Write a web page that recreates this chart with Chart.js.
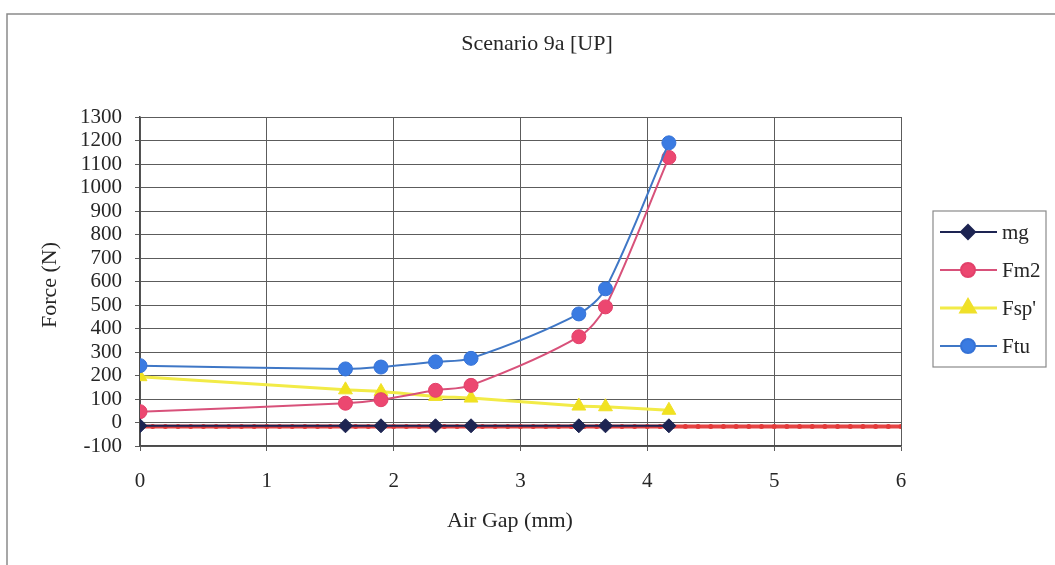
<!DOCTYPE html>
<html>
<head>
<meta charset="utf-8">
<title>Scenario 9a [UP]</title>
<script src="https://cdn.jsdelivr.net/npm/chart.js@4.4.1/dist/chart.umd.min.js"></script>
<style>
  html, body { margin: 0; padding: 0; background: #ffffff; }
  #wrap { width: 1055px; height: 565px; position: relative; }
  canvas { display: block; }
</style>
</head>
<body>
<div id="wrap"><canvas id="chart" width="1055" height="565"></canvas></div>
<script>
// Air gap positions (mm) where the forces were evaluated
const airGap = [0, 1.62, 1.90, 2.33, 2.61, 3.46, 3.67, 4.17];

// Forces (N) at each air gap
const mg    = [-14, -14, -14, -14, -14, -14, -14, -14];
const fm2   = [46, 82, 97, 137, 158, 365, 492, 1128];
const fsp   = [195, 139, 132, 111, 104, 70, 67, 52];
const ftu   = [242, 228, 236, 258, 273, 462, 569, 1190];

// Reference level sampled every 0.1 mm across the full gap range
const refGap = [0, 0.1, 0.2, 0.3, 0.4, 0.5, 0.6, 0.7, 0.8, 0.9,
  1, 1.1, 1.2, 1.3, 1.4, 1.5, 1.6, 1.7, 1.8, 1.9,
  2, 2.1, 2.2, 2.3, 2.4, 2.5, 2.6, 2.7, 2.8, 2.9,
  3, 3.1, 3.2, 3.3, 3.4, 3.5, 3.6, 3.7, 3.8, 3.9,
  4, 4.1, 4.2, 4.3, 4.4, 4.5, 4.6, 4.7, 4.8, 4.9,
  5, 5.1, 5.2, 5.3, 5.4, 5.5, 5.6, 5.7, 5.8, 5.9, 6];
const refForce = [-17, -17, -17, -17, -17, -17, -17, -17, -17, -17,
  -17, -17, -17, -17, -17, -17, -17, -17, -17, -17,
  -17, -17, -17, -17, -17, -17, -17, -17, -17, -17,
  -17, -17, -17, -17, -17, -17, -17, -17, -17, -17,
  -17, -17, -17, -17, -17, -17, -17, -17, -17, -17,
  -17, -17, -17, -17, -17, -17, -17, -17, -17, -17, -17];

// Axis ticks
const xTicks = [0, 1, 2, 3, 4, 5, 6];
const yTicks = [-100, 0, 100, 200, 300, 400, 500, 600, 700, 800, 900, 1000, 1100, 1200, 1300];

const chartTitle = 'Scenario 9a [UP]';
const xTitle = 'Air Gap (mm)';
const yTitle = 'Force (N)';

const FONT = '"Liberation Serif", "Times New Roman", serif';
const TEXT = '#262626';

const pts = (xs, ys) => xs.map((x, i) => ({ x: x, y: ys[i] }));

const datasets = [
  {
    label: 'ref',
    data: pts(refGap, refForce),
    borderColor: 'rgba(226,48,48,0.9)',
    backgroundColor: '#e23a3a',
    borderWidth: 4,
    pointStyle: 'circle',
    pointRadius: 2.5,
    pointBorderWidth: 0,
    tension: 0,
    order: 5,
    inLegend: false
  },
  {
    label: 'mg',
    data: pts(airGap, mg),
    borderColor: '#1d2452',
    backgroundColor: '#1d2452',
    borderWidth: 2,
    pointStyle: 'rectRot',
    pointRadius: 7,
    pointBorderWidth: 1,
    tension: 0,
    order: 1
  },
  {
    label: 'Fm2',
    data: pts(airGap, fm2),
    borderColor: '#d8517a',
    backgroundColor: '#ec4770',
    pointBorderColor: '#e2406a',
    borderWidth: 2,
    pointStyle: 'circle',
    pointRadius: 7,
    pointBorderWidth: 1,
    tension: 0.3,
    order: 3
  },
  {
    label: "Fsp'",
    data: pts(airGap, fsp),
    borderColor: '#f2eb47',
    backgroundColor: '#f1e21f',
    pointBorderColor: '#efe02a',
    borderWidth: 3,
    pointStyle: 'triangle',
    pointRadius: 8,
    pointBorderWidth: 1,
    tension: 0.3,
    order: 4
  },
  {
    label: 'Ftu',
    data: pts(airGap, ftu),
    borderColor: '#3f77c6',
    backgroundColor: '#3a7be2',
    pointBorderColor: '#3572d6',
    borderWidth: 2,
    pointStyle: 'circle',
    pointRadius: 7,
    pointBorderWidth: 1,
    tension: 0.3,
    order: 2
  }
];

// Page-level decorations: frame, title, axis titles and the boxed legend
const decorations = {
  id: 'decorations',
  afterDraw(chart) {
    const ctx = chart.ctx;
    ctx.save();

    // outer frame (top and left edges)
    ctx.strokeStyle = '#8a8a8a';
    ctx.lineWidth = 1.5;
    ctx.beginPath();
    ctx.moveTo(1055, 14);
    ctx.lineTo(7, 14);
    ctx.lineTo(7, 565);
    ctx.stroke();

    ctx.fillStyle = TEXT;
    ctx.textAlign = 'center';
    ctx.textBaseline = 'middle';
    ctx.font = '22px ' + FONT;
    ctx.fillText(chartTitle, 537, 44);

    ctx.font = '22px ' + FONT;
    ctx.fillText(xTitle, 510, 521);

    ctx.save();
    ctx.translate(50, 285);
    ctx.rotate(-Math.PI / 2);
    ctx.fillText(yTitle, 0, 0);
    ctx.restore();

    // legend
    const shown = chart.data.datasets.filter(d => d.inLegend !== false);
    const boxX = 933, boxY = 211, boxW = 113, rowH = 38;
    const boxH = rowH * shown.length + 4;
    ctx.fillStyle = '#ffffff';
    ctx.fillRect(boxX, boxY, boxW, boxH);
    ctx.strokeStyle = '#8a8a8a';
    ctx.lineWidth = 1.2;
    ctx.strokeRect(boxX, boxY, boxW, boxH);

    shown.forEach((ds, i) => {
      const cy = boxY + 21 + i * rowH;
      ctx.strokeStyle = ds.borderColor;
      ctx.lineWidth = ds.borderWidth;
      ctx.beginPath();
      ctx.moveTo(940, cy);
      ctx.lineTo(997, cy);
      ctx.stroke();
      ctx.fillStyle = ds.backgroundColor;
      ctx.strokeStyle = ds.pointBorderColor || ds.backgroundColor;
      Chart.helpers.drawPoint(ctx, {
        pointStyle: ds.pointStyle,
        radius: ds.pointRadius,
        rotation: 0,
        borderWidth: ds.pointBorderWidth
      }, 968, cy);
      ctx.fillStyle = TEXT;
      ctx.textAlign = 'left';
      ctx.textBaseline = 'middle';
      ctx.font = '21px ' + FONT;
      ctx.fillText(ds.label, 1002, cy + 1);
    });

    ctx.restore();
  }
};

new Chart(document.getElementById('chart'), {
  type: 'line',
  data: { datasets: datasets },
  options: {
    responsive: false,
    animation: false,
    devicePixelRatio: 1,
    layout: { padding: { top: 117, right: 154, bottom: 0, left: 0 } },
    plugins: {
      legend: { display: false },
      title: { display: false },
      tooltip: { enabled: false }
    },
    scales: {
      x: {
        type: 'linear',
        min: 0,
        max: 6,
        afterFit(scale) { scale.height = 119; },
        afterBuildTicks(scale) { scale.ticks = xTicks.map(v => ({ value: v })); },
        ticks: {
          color: TEXT,
          font: { family: FONT, size: 21 },
          padding: 18,
          maxRotation: 0,
          callback: v => String(v)
        },
        grid: { color: '#5c5c5c', lineWidth: 1, tickLength: 5, tickColor: '#5c5c5c' },
        border: { display: true, color: '#4a4a4a', width: 1.5 }
      },
      y: {
        type: 'linear',
        min: -100,
        max: 1300,
        afterFit(scale) { scale.width = 140; },
        afterBuildTicks(scale) { scale.ticks = yTicks.map(v => ({ value: v })); },
        ticks: {
          color: TEXT,
          font: { family: FONT, size: 21 },
          padding: 13,
          autoSkip: false,
          callback: v => String(v)
        },
        grid: { color: '#5c5c5c', lineWidth: 1, tickLength: 5, tickColor: '#5c5c5c' },
        border: { display: true, color: '#4a4a4a', width: 1.5 }
      }
    }
  },
  plugins: [decorations]
});
</script>
</body>
</html>
